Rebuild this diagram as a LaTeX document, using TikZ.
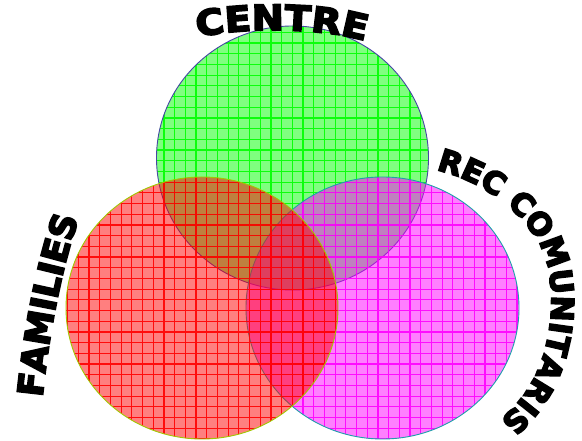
\documentclass[tikz,border=0pt]{standalone}
\usepackage{fontspec}
\usetikzlibrary{decorations.text}
\newfontface\wa{DejaVu Sans Bold}[FakeBold=5]
\newfontface\wawide{DejaVu Sans Bold}[FakeBold=5,FakeStretch=1.1]
\definecolor{gfillc}{RGB}{0,255,0}
\definecolor{rfillc}{RGB}{255,0,0}
\definecolor{mfillc}{RGB}{255,0,255}
\definecolor{gbord}{RGB}{70,70,165}
\definecolor{rbord}{RGB}{160,200,0}
\definecolor{mbord}{RGB}{30,160,170}
\tikzset{
  gridlines/.style={line width=1.2pt, step=10.7pt},
  circfill/.style={fill=#1, fill opacity=0.5},
  circgrid/.style={draw=#1, draw opacity=0.9, gridlines},
  circbord/.style={draw=#1, line width=0.9pt},
}
\begin{document}
\begin{tikzpicture}[x=1pt,y=1pt]
\useasboundingbox (0,0) rectangle (582,441);
% green circle (CENTRE)
\begin{scope}
  \clip (292.5,283) ellipse [x radius=136, y radius=132];
  \path[circfill=gfillc] (292.5,283) ellipse [x radius=136, y radius=132];
  \draw[circgrid=gfillc, shift={(3.4,2)}] (140,140) grid (440,430);
\end{scope}
\draw[circbord=gbord] (292.5,283) ellipse [x radius=136, y radius=132];
% magenta circle (REC COMUNITARIS)
\begin{scope}
  \clip (382.5,133) ellipse [x radius=136.5, y radius=131];
  \path[circfill=mfillc] (382.5,133) ellipse [x radius=136.5, y radius=131];
  \draw[circgrid=mfillc, shift={(3.4,2)}] (240,0) grid (530,270);
\end{scope}
\draw[circbord=mbord] (382.5,133) ellipse [x radius=136.5, y radius=131];
% red circle (FAMILIES)
\begin{scope}
  \clip (202,133) ellipse [x radius=136, y radius=131];
  \path[circfill=rfillc] (202,133) ellipse [x radius=136, y radius=131];
  \draw[circgrid=rfillc, shift={(3.4,2)}] (60,0) grid (350,270);
\end{scope}
\draw[circbord=rbord] (202,133) ellipse [x radius=136, y radius=131];
% labels
\path[decorate, decoration={text along path, text format delimiters={|}{|},
  text={|\wawide\fontsize{35}{35}\selectfont|CENTRE}, text align=center}]
  (195,403) .. controls (238,414) and (324,414) .. (368,399);
\path[decorate, decoration={text along path, text format delimiters={|}{|},
  text={|\wa\fontsize{35}{35}\selectfont|FAMILIES}, text align=center}]
  (42,40) .. controls (48,100) and (60,170) .. (80,226);
\path[decorate, decoration={text along path, text format delimiters={|}{|},
  text={|\wa\fontsize{31}{31}\selectfont|REC COMUNITARIS}, text align=left}]
  (436,271) .. controls (475,262) and (522,235) .. (542,191)
  .. controls (556,160) and (556,100) .. (530,56)
  .. controls (521,41) and (511,30) .. (500,21);
\end{tikzpicture}
\end{document}
